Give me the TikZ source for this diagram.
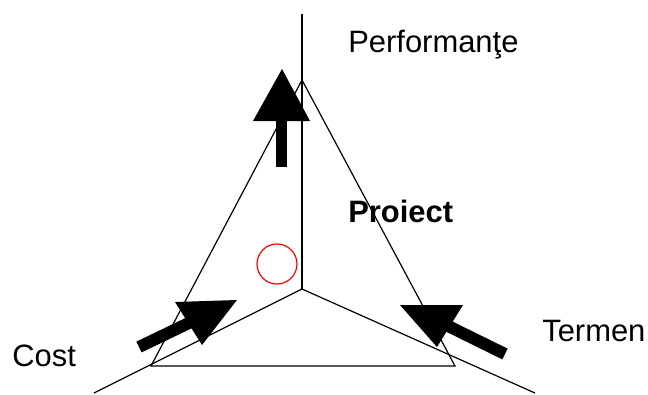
\documentclass[tikz,border=0pt]{standalone}
\usepackage{fontspec}
\setmainfont{Liberation Sans}

\begin{document}
\begin{tikzpicture}[x=0.75pt,y=-0.75pt,
    axis/.style={line width=0.9pt},
    lbl/.style={anchor=base west, inner sep=0, font=\fontsize{23.2}{28}\selectfont},
    blockarrow/.style={fill=black}]
    \useasboundingbox (0,0) rectangle (648,394);

    % Labels
    \node[lbl] (perf) at (348,52) {Performanţe};
    \node[lbl] (cost) at (12,366) {Cost};
    \node[lbl] (termen) at (542,341) {Termen};
    \node[lbl, font=\fontsize{23.2}{28}\selectfont\bfseries] (proiect) at (348,222) {Proiect};

    % Axes: 3 half-lines from the centre
    \coordinate (O) at (302,289);
    \coordinate (axtop) at (302,14);
    \coordinate (axleft) at (94,393);
    \coordinate (axright) at (535,393);
    \foreach \e in {axtop, axleft, axright} {
        \draw[axis] (O) -- (\e);
    }

    % Triangle
    \coordinate (apex) at (302,80);
    \coordinate (bl) at (151,366);
    \coordinate (br) at (455,366);
    \draw[axis] (apex) -- (bl) -- (br) -- cycle;

    % Red mark
    \node[draw=red, circle, line width=0.9pt, minimum size=30pt, inner sep=0] (mark) at (277,264) {};

    % Arrow up
    \fill[blockarrow] (276,118) rectangle (287,167);
    \fill[blockarrow] (282,69) -- (253,121) -- (310,121) -- cycle;

    % Arrow from the left
    \fill[blockarrow] (136.4,341.6) -- (190.4,315.6) -- (195.6,326.4) -- (141.6,352.4) -- cycle;
    \fill[blockarrow] (175,302) -- (237,300) -- (202,345) -- cycle;

    % Arrow from the right
    \fill[blockarrow] (507.6,348.6) -- (444.6,317.6) -- (439.4,328.4) -- (502.4,359.4) -- cycle;
    \fill[blockarrow] (400,305) -- (463,305) -- (437,347) -- cycle;

\end{tikzpicture}
\end{document}
